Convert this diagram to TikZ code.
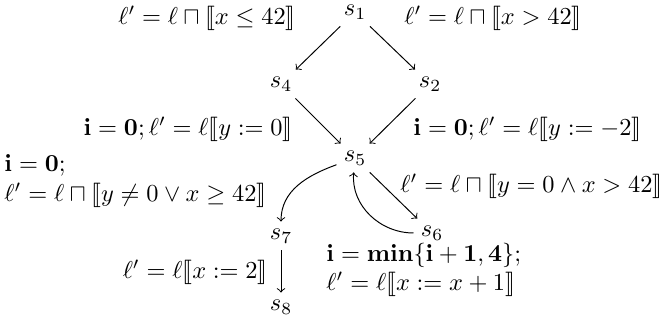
\documentclass[tikz,border=0pt]{standalone}
\usepackage{amsmath,amssymb,stmaryrd}
\begin{document}
\begin{tikzpicture}[x=0.41pt,y=-0.41pt,
  st/.style={inner sep=1pt,outer sep=2pt},
  lab/.style={inner sep=0pt},
  edge/.style={->,line width=0.4pt}]
\useasboundingbox (0,0) rectangle (666,324);
\node[st] (s1) at (355,12) {$s_1$};
\node[st] (s4) at (281,84) {$s_4$};
\node[st] (s2) at (430,84) {$s_2$};
\node[st] (s5) at (355,158) {$s_5$};
\node[st] (s6) at (432,233) {$s_6$};
\node[st] (s7) at (281,236) {$s_7$};
\node[st] (s8) at (281,307) {$s_8$};
\draw[edge] (s1) -- (s4);
\draw[edge] (s1) -- (s2);
\draw[edge] (s4) -- (s5);
\draw[edge] (s2) -- (s5);
\draw[edge] (s5) to[out=200,in=90] (s7);
\draw[edge] (s5) -- (s6);
\draw[edge] (s6.west) to[out=180,in=-95] (s5);
\draw[edge] (s7) -- (s8);
\node[lab] (l1) at (207,18) {$\ell' = \ell \sqcap \llbracket x \leq 42\rrbracket$};
\node[lab] (l2) at (493,18) {$\ell' = \ell \sqcap \llbracket x > 42\rrbracket$};
\node[lab,anchor=east] (l3) at (293,129) {$\mathbf{i}=\mathbf{0}; \ell' = \ell\llbracket y := 0\rrbracket$};
\node[lab,anchor=west] (l4) at (413,129) {$\mathbf{i}=\mathbf{0}; \ell' = \ell\llbracket y := -2\rrbracket$};
\node[lab,anchor=west,align=left] (l5) at (4,181) {$\mathbf{i}=\mathbf{0};$\\$\ell' = \ell \sqcap \llbracket y \neq 0 \vee x \geq 42\rrbracket$};
\node[lab,anchor=west] (l6) at (400,186) {$\ell' = \ell \sqcap \llbracket y = 0 \wedge x > 42\rrbracket$};
\node[lab,anchor=west,align=left] (l7) at (326,270) {$\mathbf{i}=\mathbf{min}\{\mathbf{i}+\mathbf{1},\mathbf{4}\};$\\$\ell' = \ell\llbracket x := x+1\rrbracket$};
\node[lab,anchor=east] (l8) at (268,272) {$\ell' = \ell\llbracket x := 2\rrbracket$};
\end{tikzpicture}
\end{document}
